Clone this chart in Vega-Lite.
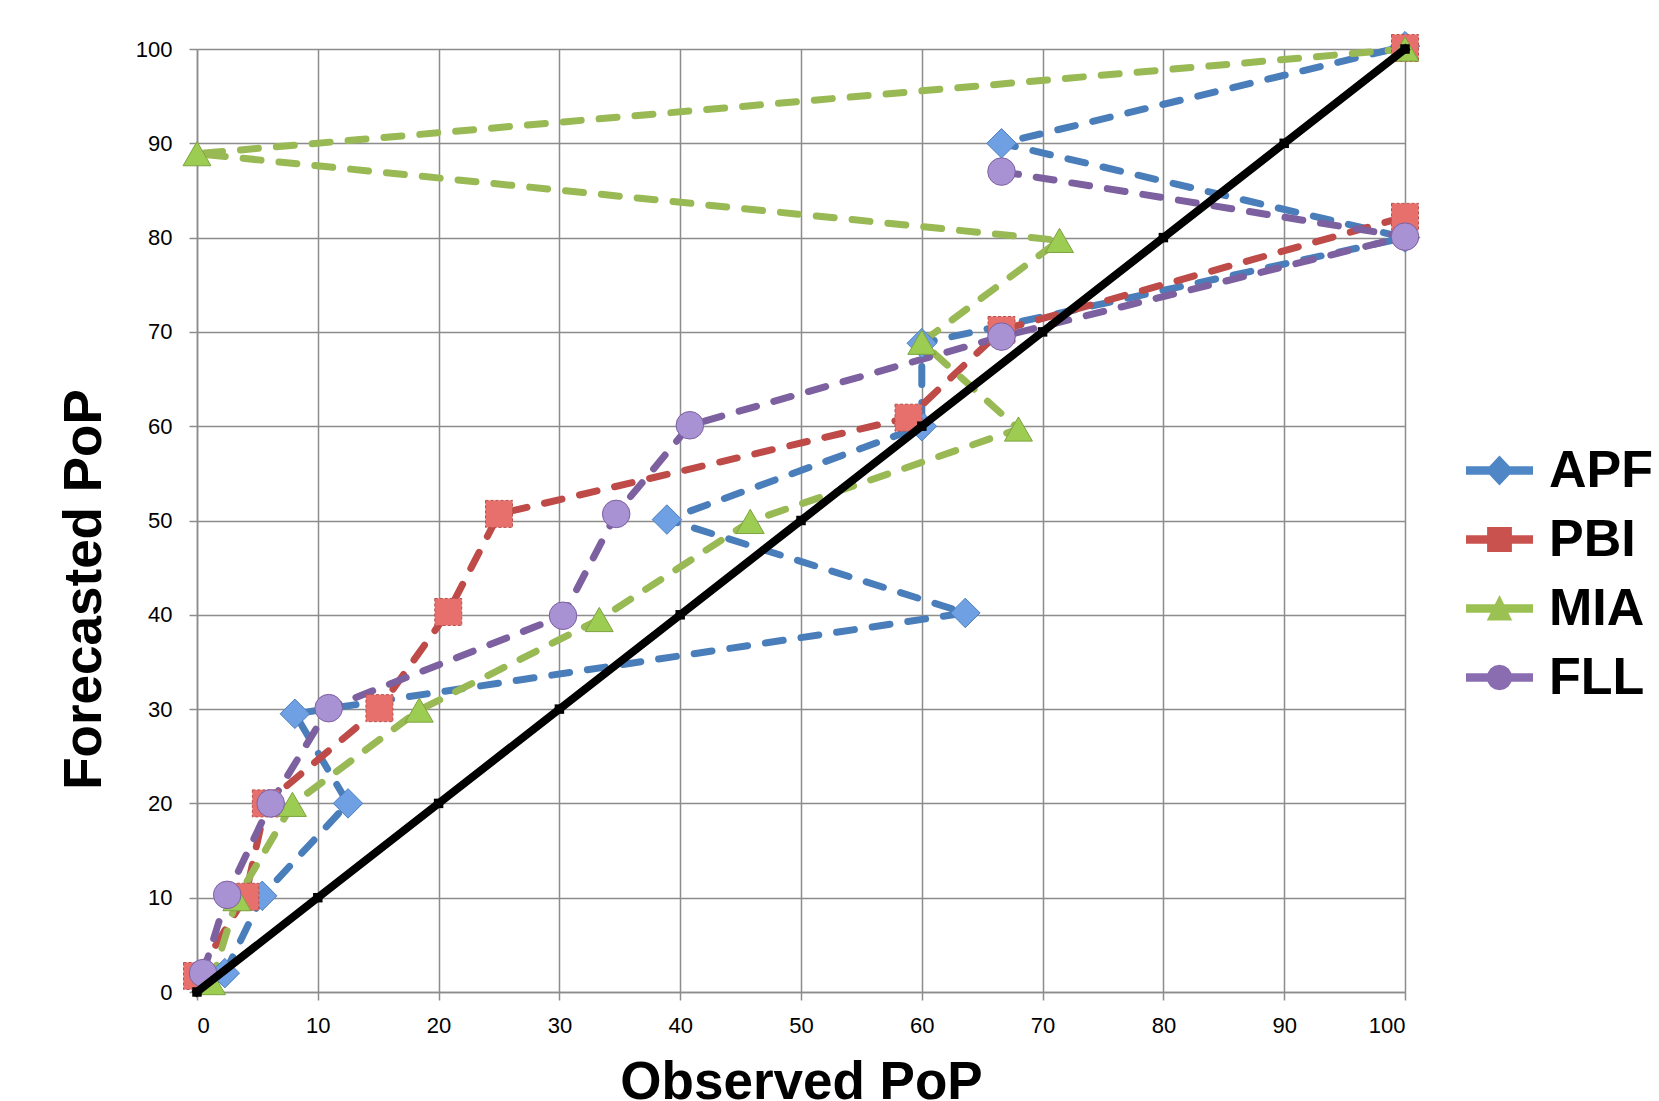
{
  "$schema": "https://vega.github.io/schema/vega-lite/v6.json",
  "width": 1208,
  "height": 943,
  "autosize": {"type": "none"},
  "padding": {"left": 197, "top": 49, "right": 254, "bottom": 109},
  "background": "white",
  "title": {"text": "Locations", "font": "Liberation Sans", "fontSize": 98, "fontWeight": "bold", "color": "black", "anchor": "middle", "frame": "group", "dx": -92, "baseline": "alphabetic", "offset": 30},
  "config": {
    "view": {"stroke": null},
    "axis": {
      "gridColor": "#8c8c8c", "gridWidth": 1.5, "gridOpacity": 1,
      "domainColor": "#8c8c8c", "domainWidth": 1.5,
      "tickColor": "#8c8c8c", "tickWidth": 1.5, "tickSize": 8,
      "labelFont": "Liberation Sans", "labelFontSize": 22, "labelColor": "black",
      "titleFont": "Liberation Sans", "titleFontSize": 53, "titleFontWeight": "bold", "titleColor": "black"
    }
  },
  "datasets": {
    "rel": [
      {"loc": "APF", "bin": 0, "obs": 2.3, "fc": 2.0},
      {"loc": "APF", "bin": 10, "obs": 5.4, "fc": 10.2},
      {"loc": "APF", "bin": 20, "obs": 12.5, "fc": 20.0},
      {"loc": "APF", "bin": 30, "obs": 8.1, "fc": 29.5},
      {"loc": "APF", "bin": 40, "obs": 63.6, "fc": 40.2},
      {"loc": "APF", "bin": 50, "obs": 38.9, "fc": 50.1},
      {"loc": "APF", "bin": 60, "obs": 60.0, "fc": 60.0},
      {"loc": "APF", "bin": 70, "obs": 60.0, "fc": 68.8},
      {"loc": "APF", "bin": 80, "obs": 100.0, "fc": 80.0},
      {"loc": "APF", "bin": 90, "obs": 66.6, "fc": 90.0},
      {"loc": "APF", "bin": 100, "obs": 100.0, "fc": 100.3},
      {"loc": "PBI", "bin": 0, "obs": 0.0, "fc": 1.7},
      {"loc": "PBI", "bin": 10, "obs": 4.0, "fc": 10.1},
      {"loc": "PBI", "bin": 20, "obs": 5.7, "fc": 20.0},
      {"loc": "PBI", "bin": 30, "obs": 15.1, "fc": 30.1},
      {"loc": "PBI", "bin": 40, "obs": 20.8, "fc": 40.3},
      {"loc": "PBI", "bin": 50, "obs": 25.0, "fc": 50.7},
      {"loc": "PBI", "bin": 60, "obs": 58.9, "fc": 60.9},
      {"loc": "PBI", "bin": 70, "obs": 66.6, "fc": 70.2},
      {"loc": "PBI", "bin": 80, "obs": 100.0, "fc": 82.2},
      {"loc": "PBI", "bin": 100, "obs": 100.0, "fc": 100.1},
      {"loc": "MIA", "bin": 0, "obs": 1.2, "fc": 1.0},
      {"loc": "MIA", "bin": 10, "obs": 3.3, "fc": 9.9},
      {"loc": "MIA", "bin": 20, "obs": 7.9, "fc": 19.9},
      {"loc": "MIA", "bin": 30, "obs": 18.4, "fc": 29.9},
      {"loc": "MIA", "bin": 40, "obs": 33.3, "fc": 39.5},
      {"loc": "MIA", "bin": 50, "obs": 45.8, "fc": 49.9},
      {"loc": "MIA", "bin": 60, "obs": 68.0, "fc": 59.7},
      {"loc": "MIA", "bin": 70, "obs": 60.0, "fc": 68.9},
      {"loc": "MIA", "bin": 80, "obs": 71.4, "fc": 79.7},
      {"loc": "MIA", "bin": 90, "obs": 0.0, "fc": 88.9},
      {"loc": "MIA", "bin": 100, "obs": 100.0, "fc": 100.0},
      {"loc": "FLL", "bin": 0, "obs": 0.5, "fc": 2.0},
      {"loc": "FLL", "bin": 10, "obs": 2.5, "fc": 10.3},
      {"loc": "FLL", "bin": 20, "obs": 6.1, "fc": 20.0},
      {"loc": "FLL", "bin": 30, "obs": 10.9, "fc": 30.1},
      {"loc": "FLL", "bin": 40, "obs": 30.3, "fc": 39.9},
      {"loc": "FLL", "bin": 50, "obs": 34.7, "fc": 50.7},
      {"loc": "FLL", "bin": 60, "obs": 40.8, "fc": 60.1},
      {"loc": "FLL", "bin": 70, "obs": 66.6, "fc": 69.5},
      {"loc": "FLL", "bin": 80, "obs": 100.0, "fc": 80.1},
      {"loc": "FLL", "bin": 90, "obs": 66.6, "fc": 87.0}
    ],
    "perfect": [
      {"obs": 0, "fc": 0}, {"obs": 10, "fc": 10}, {"obs": 20, "fc": 20}, {"obs": 30, "fc": 30},
      {"obs": 40, "fc": 40}, {"obs": 50, "fc": 50}, {"obs": 60, "fc": 60}, {"obs": 70, "fc": 70},
      {"obs": 80, "fc": 80}, {"obs": 90, "fc": 90}, {"obs": 100, "fc": 100}
    ]
  },
  "data": {"name": "rel"},
  "encoding": {
    "x": {
      "field": "obs", "type": "quantitative",
      "scale": {"domain": [0, 100], "nice": false, "zero": false},
      "axis": {"values": [0, 10, 20, 30, 40, 50, 60, 70, 80, 90, 100], "title": "Observed PoP", "labelPadding": 15, "titleX": 604, "titleY": 106, "titleAlign": "center", "titleBaseline": "alphabetic"}
    },
    "y": {
      "field": "fc", "type": "quantitative",
      "scale": {"domain": [0, 100], "nice": false, "zero": false},
      "axis": {"values": [0, 10, 20, 30, 40, 50, 60, 70, 80, 90, 100], "title": "Forecasted PoP", "labelPadding": 17, "titleX": -97, "titleY": 540, "titleAlign": "center", "titleBaseline": "alphabetic", "titleAngle": -90}
    }
  },
  "layer": [
    {
      "transform": [{"filter": "!(datum.loc == 'PBI' && datum.bin == 100)"}],
      "mark": {"type": "line", "strokeWidth": 7, "strokeDash": [18, 18], "strokeCap": "round"},
      "encoding": {
        "stroke": {"field": "loc", "type": "nominal", "scale": {"range": ["#4a7ebb", "#7d60a0", "#98b954", "#be4b48"]}, "legend": null},
        "order": {"field": "bin", "type": "quantitative"}
      }
    },
    {
      "transform": [{"filter": "datum.loc == 'APF'"}],
      "mark": {"type": "point", "shape": "diamond", "filled": true, "size": 870, "fill": "#6fa0e3", "stroke": "#4a7ebb", "strokeWidth": 1, "opacity": 1}
    },
    {
      "transform": [{"filter": "datum.loc == 'PBI'"}],
      "mark": {"type": "point", "shape": "square", "filled": true, "size": 729, "fill": "#e8706c", "stroke": "#b9514d", "strokeWidth": 1, "strokeDash": [3, 2], "opacity": 1}
    },
    {
      "transform": [{"filter": "datum.loc == 'MIA'"}],
      "mark": {"type": "point", "shape": "triangle-up", "filled": true, "size": 780, "fill": "#9ccd52", "stroke": "#7ea33f", "strokeWidth": 1, "opacity": 1}
    },
    {
      "transform": [{"filter": "datum.loc == 'FLL'"}],
      "mark": {"type": "point", "shape": "circle", "filled": true, "size": 760, "fill": "#a892d4", "stroke": "#7d60a0", "strokeWidth": 1, "opacity": 1}
    },
    {
      "transform": [{"filter": "datum.bin == 1000"}],
      "mark": {"type": "point", "filled": true, "opacity": 1},
      "encoding": {
        "fill": {"field": "loc", "type": "nominal", "scale": {"domain": ["APF", "PBI", "MIA", "FLL"], "range": ["#4f86c6", "#c9524f", "#9bc152", "#8a6cb0"]},
          "legend": {"title": null, "orient": "none", "legendX": 1268, "legendY": 387, "labelFont": "Liberation Sans", "labelFontSize": 52, "labelFontWeight": "bold", "labelColor": "black", "symbolSize": 4489, "labelOffset": 15, "rowPadding": 8}},
        "shape": {"field": "loc", "type": "nominal", "scale": {"domain": ["APF", "PBI", "MIA", "FLL"], "range": [
          "M-1,-0.13H1V0.13H-1M0,-0.45L0.42,0L0,0.45L-0.42,0",
          "M-1,-0.13H1V0.13H-1M-0.37,-0.37H0.37V0.37H-0.37",
          "M-1,-0.13H1V0.13H-1M0,-0.4L0.38,0.36H-0.38",
          "M-1,-0.13H1V0.13H-1M0.38,0L0.351,0.145L0.269,0.269L0.145,0.351L0,0.38L-0.145,0.351L-0.269,0.269L-0.351,0.145L-0.38,0L-0.351,-0.145L-0.269,-0.269L-0.145,-0.351L0,-0.38L0.145,-0.351L0.269,-0.269L0.351,-0.145"]},
          "legend": {"title": null, "orient": "none", "legendX": 1268, "legendY": 387, "labelFont": "Liberation Sans", "labelFontSize": 52, "labelFontWeight": "bold", "labelColor": "black", "symbolSize": 4489, "labelOffset": 15, "rowPadding": 8}}
      }
    },
    {
      "data": {"name": "perfect"},
      "mark": {"type": "line", "color": "black", "strokeWidth": 8, "strokeCap": "square", "point": {"shape": "square", "size": 90, "filled": true, "color": "black", "opacity": 1}},
      "encoding": {}
    }
  ]
}
